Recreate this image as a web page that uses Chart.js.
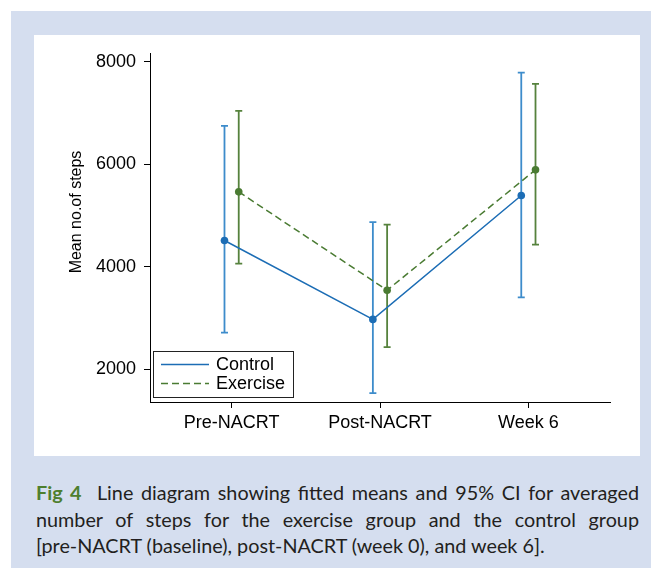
<!DOCTYPE html>
<html>
<head>
<meta charset="utf-8">
<script src="https://cdn.jsdelivr.net/npm/chart.js@4/dist/chart.umd.min.js"></script>
<style>
  html, body { margin: 0; padding: 0; background: #ffffff; width: 651px; height: 571px; overflow: hidden; }
  #panel { position: absolute; left: 11px; top: 11px; width: 640px; height: 557px; background: #d5deef; }
  #inner { position: absolute; left: 34px; top: 35px; width: 606px; height: 421px; background: #ffffff; }
  #cap { position: absolute; left: 36px; top: 479px; width: 603px; font-family: Lato, "Noto Sans", sans-serif; font-size: 19.8px; line-height: 26.5px; color: #231f20; }
  #cap div { text-align: justify; text-align-last: justify; white-space: nowrap; }
  #cap div.last { text-align-last: left; }
  #cap b { color: #4e7f2e; font-weight: 700; }
</style>
</head>
<body>
<div id="panel"></div>
<div id="inner"><canvas id="c" width="606" height="421"></canvas></div>
<div id="cap">
  <div><b>Fig 4</b>&nbsp; Line diagram showing fitted means and 95% CI for averaged</div>
  <div>number of steps for the exercise group and the control group</div>
  <div class="last">[pre-NACRT (baseline), post-NACRT (week 0), and week 6].</div>
</div>
<script>
const categories = ['Pre-NACRT', 'Post-NACRT', 'Week 6'];
const controlMean = [4510, 2970, 5390];
const controlLow  = [2710, 1530, 3400];
const controlHigh = [6750, 4870, 7790];
const exerciseMean = [5460, 3540, 5890];
const exerciseLow  = [4060, 2430, 4430];
const exerciseHigh = [7040, 4820, 7570];
const yTicks = [2000, 4000, 6000, 8000];
const seriesNames = ['Control', 'Exercise'];

const dodge = 0.048;
function pts(mean, off) { return mean.map((v, i) => ({ x: i + 1 + off, y: v })); }

const C_BLUE = '#1c6db5', C_BLUE_BAR = '#3d8ccb';
const C_GREEN = '#4a7b32', C_GREEN_BAR = '#56823d';

const errorBars = {
  id: 'errorBars',
  beforeDatasetsDraw(chart) {
    const ctx = chart.ctx, xs = chart.scales.x, ys = chart.scales.y;
    const groups = [
      { off: -dodge, lo: controlLow, hi: controlHigh, color: C_BLUE_BAR },
      { off: dodge, lo: exerciseLow, hi: exerciseHigh, color: C_GREEN_BAR }
    ];
    ctx.save();
    ctx.lineWidth = 1.8;
    groups.forEach(g => {
      ctx.strokeStyle = g.color;
      g.lo.forEach((lo, i) => {
        const x = xs.getPixelForValue(i + 1 + g.off);
        const y1 = ys.getPixelForValue(lo), y2 = ys.getPixelForValue(g.hi[i]);
        ctx.beginPath();
        ctx.moveTo(x, y1); ctx.lineTo(x, y2);
        ctx.moveTo(x - 3.5, y1); ctx.lineTo(x + 3.5, y1);
        ctx.moveTo(x - 3.5, y2); ctx.lineTo(x + 3.5, y2);
        ctx.stroke();
      });
    });
    ctx.restore();
  },
  afterDraw(chart) {
    const ctx = chart.ctx;
    ctx.save();
    ctx.fillStyle = '#000';
    ctx.font = '16px "Liberation Sans", Arial, sans-serif';
    ctx.textAlign = 'center';
    ctx.textBaseline = 'middle';
    ctx.translate(43, 177);
    ctx.rotate(-Math.PI / 2);
    ctx.fillText('Mean no.of steps', 0, 0);
    ctx.restore();
    ctx.save();
    ctx.strokeStyle = '#222';
    ctx.lineWidth = 1;
    ctx.strokeRect(119.5, 316.5, 140, 46);
    ctx.font = '18px "Liberation Sans", Arial, sans-serif';
    ctx.textBaseline = 'middle';
    ctx.textAlign = 'left';
    const items = [
      { y: 329.5, color: C_BLUE, dash: [] , w: 1.5},
      { y: 348.5, color: C_GREEN, dash: [7, 4], w: 1.5 }
    ];
    items.forEach((it, k) => {
      ctx.strokeStyle = it.color;
      ctx.lineWidth = it.w;
      ctx.setLineDash(it.dash);
      ctx.beginPath(); ctx.moveTo(127, it.y); ctx.lineTo(175, it.y); ctx.stroke();
      ctx.setLineDash([]);
      ctx.fillStyle = '#000';
      ctx.fillText(seriesNames[k], 182, it.y + 1);
    });
    ctx.restore();
  }
};

new Chart(document.getElementById('c'), {
  type: 'line',
  data: {
    datasets: [
      { label: seriesNames[0], data: pts(controlMean, -dodge), borderColor: C_BLUE, backgroundColor: C_BLUE,
        borderWidth: 1.5, pointRadius: 3.8, pointBorderWidth: 0, tension: 0 },
      { label: seriesNames[1], data: pts(exerciseMean, dodge), borderColor: C_GREEN, backgroundColor: C_GREEN,
        borderWidth: 1.5, borderDash: [7, 4], pointRadius: 3.8, pointBorderWidth: 0, tension: 0 }
    ]
  },
  options: {
    responsive: false,
    animation: false,
    devicePixelRatio: 1,
    layout: { padding: { left: 0, right: 30, top: 18, bottom: 0 } },
    plugins: { legend: { display: false }, tooltip: { enabled: false } },
    scales: {
      x: {
        type: 'linear', min: 0.45, max: 3.55,
        afterBuildTicks: s => { s.ticks = categories.map((c, i) => ({ value: i + 1 })); },
        afterFit: s => { s.height = 54; },
        ticks: { callback: v => categories[Math.round(v) - 1] || '', color: '#000', padding: 4,
                 font: { family: '"Liberation Sans", Arial, sans-serif', size: 18 }, maxRotation: 0, autoSkip: false },
        grid: { drawOnChartArea: false, drawTicks: true, tickLength: 6, color: '#000', lineWidth: 1 },
        border: { display: true, color: '#000', width: 1 }
      },
      y: {
        min: 1357, max: 8156,
        afterBuildTicks: s => { s.ticks = yTicks.map(v => ({ value: v })); },
        afterFit: s => { s.width = 116; },
        ticks: { callback: v => String(v), color: '#000', padding: 8, font: { family: '"Liberation Sans", Arial, sans-serif', size: 18 } },
        grid: { drawOnChartArea: false, drawTicks: true, tickLength: 6, color: '#000', lineWidth: 1 },
        border: { display: true, color: '#000', width: 1 }
      }
    }
  },
  plugins: [errorBars]
});
</script>
</body>
</html>
